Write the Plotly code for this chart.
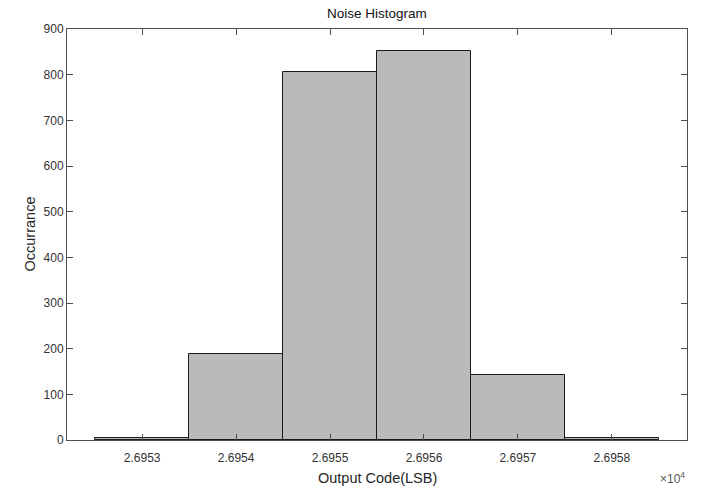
import plotly.graph_objects as go

codes = [26953, 26954, 26955, 26956, 26957, 26958]
counts = [4, 189, 805, 852, 143, 4]
tick_labels = ["2.6953", "2.6954", "2.6955", "2.6956", "2.6957", "2.6958"]
y_ticks = [0, 100, 200, 300, 400, 500, 600, 700, 800, 900]

axis_color = "#4d4d4d"
font_fam = "Liberation Sans, Arial, sans-serif"

fig = go.Figure(go.Bar(
    x=codes, y=counts, width=1,
    marker=dict(color="#bababa", line=dict(color="#1a1a1a", width=1)),
))

fig.update_layout(
    width=702, height=489,
    margin=dict(l=67, r=15, t=29, b=49, autoexpand=False),
    paper_bgcolor="white", plot_bgcolor="white",
    font=dict(family=font_fam, size=12, color="#262626"),
    showlegend=False,
    bargap=0,
)
fig.update_xaxes(
    range=[26952.2, 26958.8], automargin=False,
    tickvals=codes, ticktext=tick_labels,
    ticks="inside", ticklen=6, tickcolor=axis_color, tickwidth=1,
    showline=True, linecolor=axis_color, linewidth=1, mirror="ticks",
    showgrid=False, zeroline=False, ticklabelstandoff=7,
    tickfont=dict(size=12, color="#333333"),
)
fig.update_yaxes(
    range=[0, 900], automargin=False,
    tickvals=y_ticks,
    ticks="inside", ticklen=6, tickcolor=axis_color, tickwidth=1,
    showline=True, linecolor=axis_color, linewidth=1, mirror="ticks",
    showgrid=False, zeroline=False,
    tickfont=dict(size=12, color="#333333"),
)
plot_h = 489 - 29 - 49
plot_w = 702 - 67 - 15
fig.add_annotation(
    text="Noise Histogram", xref="paper", yref="paper", x=0.5, y=1 + 16 / plot_h,
    xanchor="center", yanchor="middle", showarrow=False,
    font=dict(size=13.5, color="#111111"),
)
fig.add_annotation(
    text="Output Code(LSB)", xref="paper", yref="paper", x=0.5, y=-38 / plot_h,
    xanchor="center", yanchor="middle", showarrow=False,
    font=dict(size=14.5, color="#262626"),
)
fig.add_annotation(
    text="Occurrance", xref="paper", yref="paper", x=-(67 - 29) / plot_w, y=0.5,
    xanchor="center", yanchor="middle", textangle=-90, showarrow=False,
    font=dict(size=14.5, color="#262626"),
)
fig.add_annotation(
    text="×10<sup>4</sup>", xref="paper", yref="paper", x=1.0, y=-38 / plot_h,
    xanchor="right", yanchor="middle", showarrow=False,
    font=dict(size=12, color="#555555"),
)
fig.write_html(
    "out.html",
    config={"displayModeBar": False},
    post_script="document.body.style.margin='0';document.body.style.overflow='hidden';",
)
